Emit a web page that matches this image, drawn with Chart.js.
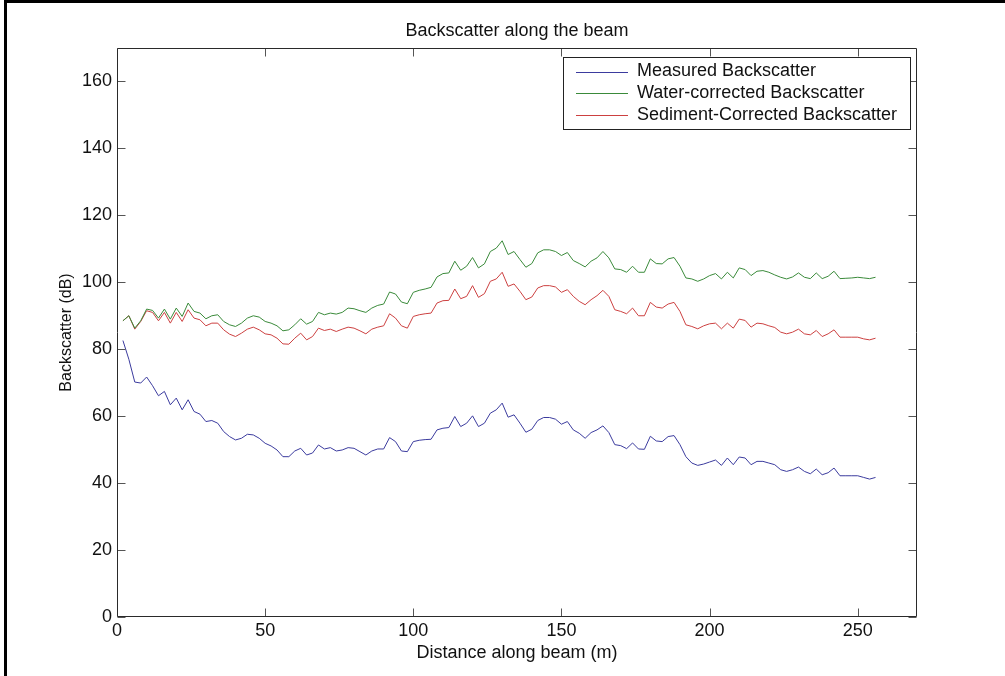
<!DOCTYPE html>
<html>
<head>
<meta charset="utf-8">
<script src="https://cdn.jsdelivr.net/npm/chart.js@4"></script>
<style>
  html, body { margin: 0; padding: 0; background: #fff; overflow: hidden; }
  #wrap { position: relative; width: 1005px; height: 676px; }
  #edge { position: absolute; left: 4px; top: 0; width: 2000px; height: 2000px;
          border-top: 3px solid #000; border-left: 3px solid #000; pointer-events: none; }
</style>
</head>
<body>
<div id="wrap">
  <canvas id="myChart" width="1005" height="676"></canvas>
  <div id="edge"></div>
</div>
<script>
const distance = [
  2, 4, 6, 8, 10, 12, 14, 16, 18, 20, 22, 24, 26, 28, 30, 32,
  34, 36, 38, 40, 42, 44, 46, 48, 50, 52, 54, 56, 58, 60, 62, 64,
  66, 68, 70, 72, 74, 76, 78, 80, 82, 84, 86, 88, 90, 92, 94, 96,
  98, 100, 102, 104, 106, 108, 110, 112, 114, 116, 118, 120, 122, 124, 126, 128,
  130, 132, 134, 136, 138, 140, 142, 144, 146, 148, 150, 152, 154, 156, 158, 160,
  162, 164, 166, 168, 170, 172, 174, 176, 178, 180, 182, 184, 186, 188, 190, 192,
  194, 196, 198, 200, 202, 204, 206, 208, 210, 212, 214, 216, 218, 220, 222, 224,
  226, 228, 230, 232, 234, 236, 238, 240, 242, 244, 246, 248, 250, 252, 254, 256
];

const measured = [
  82.6, 77.0, 70.2, 69.9, 71.7, 69.1, 66.1, 67.4,
  63.4, 65.4, 61.9, 64.9, 61.4, 60.6, 58.4, 58.7,
  57.9, 55.4, 53.9, 52.9, 53.4, 54.6, 54.4, 53.4,
  51.9, 51.1, 49.9, 47.9, 47.9, 49.6, 50.4, 48.4,
  49.0, 51.4, 50.2, 50.6, 49.6, 49.9, 50.6, 50.4,
  49.4, 48.4, 49.6, 50.2, 50.2, 53.6, 52.4, 49.6,
  49.4, 52.4, 52.8, 53.0, 53.1, 55.9, 56.4, 56.6,
  59.9, 56.9, 57.9, 60.1, 56.9, 57.9, 60.9, 61.9,
  63.9, 59.7, 60.4, 57.9, 55.2, 56.1, 58.7, 59.6,
  59.6, 59.1, 57.6, 58.4, 55.9, 54.9, 53.4, 55.1,
  55.9, 57.1, 55.1, 51.5, 51.2, 50.3, 52.0, 50.2,
  50.1, 54.0, 52.6, 52.4, 53.9, 54.2, 51.5, 47.9,
  46.0, 45.3, 45.7, 46.3, 46.9, 45.3, 47.5, 45.5,
  47.8, 47.5, 45.5, 46.5, 46.5, 46.0, 45.5, 44.0,
  43.5, 44.0, 44.8, 43.5, 42.8, 44.2, 42.5, 43.1,
  44.5, 42.2, 42.2, 42.2, 42.2, 41.7, 41.2, 41.7
];

const waterCorrected = [
  88.5, 90.0, 86.3, 88.5, 92.0, 91.6, 89.3, 92.0,
  89.0, 92.3, 89.8, 93.8, 91.3, 90.8, 89.1, 90.0,
  90.3, 88.3, 87.3, 86.8, 87.8, 89.3, 90.0, 89.6,
  88.3, 87.8, 87.0, 85.5, 85.8, 87.3, 89.1, 87.5,
  88.3, 91.0, 90.3, 90.8, 90.5, 91.0, 92.3, 92.1,
  91.5, 91.0, 92.3, 93.1, 93.5, 97.1, 96.5, 94.1,
  93.6, 97.0, 97.6, 98.0, 98.5, 101.6, 102.6, 102.8,
  106.3, 103.6, 104.8, 107.4, 104.3, 105.5, 109.2, 110.2,
  112.4, 108.3, 109.2, 106.8, 104.5, 105.6, 108.8, 109.7,
  109.7, 109.2, 108.0, 108.9, 106.5, 105.6, 104.6, 106.3,
  107.3, 109.2, 107.3, 104.0, 103.8, 103.0, 104.8, 103.0,
  103.0, 107.0, 105.6, 105.5, 107.0, 107.4, 104.8, 101.3,
  101.0, 100.3, 101.0, 102.0, 102.6, 101.0, 103.0, 101.3,
  104.3, 103.8, 102.0, 103.3, 103.5, 103.0, 102.2, 101.5,
  101.0, 101.6, 102.8, 101.5, 101.1, 102.8, 101.1, 101.8,
  103.3, 101.1, 101.2, 101.3, 101.5, 101.3, 101.1, 101.5
];

const sedimentCorrected = [
  88.5, 90.0, 86.0, 88.3, 91.5, 91.0, 88.5, 91.0,
  87.8, 91.0, 88.3, 91.8, 89.3, 88.8, 87.0, 87.8,
  87.8, 85.8, 84.5, 83.8, 84.8, 86.0, 86.6, 85.8,
  84.6, 84.3, 83.3, 81.6, 81.5, 83.3, 84.8, 82.8,
  83.8, 86.3, 85.6, 86.0, 85.3, 86.0, 86.6, 86.3,
  85.5, 84.6, 86.0, 86.6, 87.0, 90.6, 89.3, 87.0,
  86.3, 89.8, 90.3, 90.6, 90.8, 93.8, 94.5, 94.6,
  98.0, 95.1, 95.8, 99.0, 95.5, 96.6, 100.3, 101.0,
  103.0, 98.8, 99.5, 97.3, 94.8, 95.6, 98.3, 99.0,
  99.0, 98.6, 97.0, 97.8, 95.8, 94.3, 93.3, 94.8,
  96.0, 97.6, 95.8, 91.8, 91.3, 90.6, 92.3, 90.0,
  90.0, 94.0, 92.6, 92.3, 93.5, 94.0, 91.3, 87.3,
  86.8, 86.1, 87.0, 87.6, 87.8, 86.1, 87.8, 86.3,
  89.0, 88.6, 86.6, 87.8, 87.6, 87.0, 86.5, 85.1,
  84.6, 85.1, 86.0, 84.6, 84.3, 85.6, 83.8, 84.6,
  85.8, 83.6, 83.6, 83.6, 83.6, 83.1, 82.8, 83.3
];

const seriesNames = ['Measured Backscatter', 'Water-corrected Backscatter', 'Sediment-Corrected Backscatter'];
const seriesColors = ['#3b3b9e', '#3a8a3a', '#cc4040'];
const xTicks = [0, 50, 100, 150, 200, 250];
const yTicks = [0, 20, 40, 60, 80, 100, 120, 140, 160];
const chartTitle = 'Backscatter along the beam';

const FONT = "'Liberation Sans', Arial, Helvetica, sans-serif";
const ctx = document.getElementById('myChart');

function pts(vals) {
  return vals.map((v, i) => ({x: distance[i], y: v}));
}

// box, inward ticks, title and in-plot legend (matlab look)
const matlabBox = {
  id: 'matlabBox',
  afterDraw(chart) {
    const c = chart.ctx;
    const a = chart.chartArea;
    const sx = chart.scales.x, sy = chart.scales.y;
    const L = Math.round(a.left) + 0.5, R = Math.round(a.right) - 0.5;
    const T = Math.round(a.top) + 0.5, B = Math.round(a.bottom) - 0.5;
    const tl = 8;
    c.save();
    c.lineWidth = 1;
    c.strokeStyle = '#555';
    c.beginPath();
    xTicks.forEach(v => {
      const px = Math.round(sx.getPixelForValue(v)) + 0.5;
      c.moveTo(px, B); c.lineTo(px, B - tl);
      c.moveTo(px, T); c.lineTo(px, T + tl);
    });
    yTicks.forEach(v => {
      const py = Math.round(sy.getPixelForValue(v)) + 0.5;
      c.moveTo(L, py); c.lineTo(L + tl, py);
      c.moveTo(R, py); c.lineTo(R - tl, py);
    });
    c.stroke();
    c.strokeStyle = '#2a2a2a';
    c.beginPath();
    c.moveTo(L, T); c.lineTo(R, T); c.lineTo(R, B); c.lineTo(L, B); c.closePath();
    c.stroke();

    // title, centred over the axes
    c.font = '18px ' + FONT;
    c.fillStyle = '#111';
    c.textAlign = 'center';
    c.textBaseline = 'middle';
    c.fillText(chartTitle, (a.left + a.right) / 2, 31);

    // legend
    const bw = 347, bh = 72;
    const bx = Math.round(a.right) - 7 - bw, by = Math.round(a.top) + 9;
    c.fillStyle = '#fff';
    c.fillRect(bx, by, bw, bh);
    c.strokeStyle = '#222';
    c.strokeRect(bx + 0.5, by + 0.5, bw, bh);
    c.textAlign = 'left';
    seriesNames.forEach((name, i) => {
      const ry = by + 14.5 + i * 21.7;
      c.strokeStyle = seriesColors[i];
      c.beginPath();
      c.moveTo(bx + 13, Math.round(ry) + 0.5);
      c.lineTo(bx + 65, Math.round(ry) + 0.5);
      c.stroke();
      c.fillStyle = '#111';
      c.fillText(name, bx + 74, ry);
    });
    c.restore();
  }
};

new Chart(ctx, {
  type: 'line',
  data: {
    datasets: [
      {label: seriesNames[0], data: pts(measured), borderColor: seriesColors[0]},
      {label: seriesNames[1], data: pts(waterCorrected), borderColor: seriesColors[1]},
      {label: seriesNames[2], data: pts(sedimentCorrected), borderColor: seriesColors[2]}
    ]
  },
  options: {
    responsive: false,
    animation: false,
    devicePixelRatio: 1,
    layout: {padding: {left: 0, top: 48, right: 88, bottom: 0}},
    elements: {
      line: {borderWidth: 1, tension: 0},
      point: {radius: 0}
    },
    plugins: {
      legend: {display: false},
      tooltip: {enabled: false},
      title: {display: false}
    },
    scales: {
      x: {
        type: 'linear',
        min: 0,
        max: 270,
        afterBuildTicks: s => { s.ticks = xTicks.map(v => ({value: v})); },
        afterFit: s => { s.height = 59; },
        grid: {display: false, drawTicks: false},
        border: {display: false},
        ticks: {color: '#111', padding: 3, maxRotation: 0, font: {family: FONT, size: 18}},
        title: {
          display: true,
          text: 'Distance along beam (m)',
          color: '#111',
          font: {family: FONT, size: 18, lineHeight: 1.2},
          padding: {top: 0, bottom: 12.5}
        }
      },
      y: {
        min: 0,
        max: 170,
        afterBuildTicks: s => { s.ticks = yTicks.map(v => ({value: v})); },
        afterFit: s => { s.width = 117; },
        grid: {display: false, drawTicks: false},
        border: {display: false},
        ticks: {color: '#111', padding: 5, font: {family: FONT, size: 18}},
        title: {
          display: true,
          text: 'Backscatter (dB)',
          color: '#111',
          font: {family: FONT, size: 16, lineHeight: 1.2},
          padding: {top: 57, bottom: 0}
        }
      }
    }
  },
  plugins: [matlabBox]
});
</script>
</body>
</html>
